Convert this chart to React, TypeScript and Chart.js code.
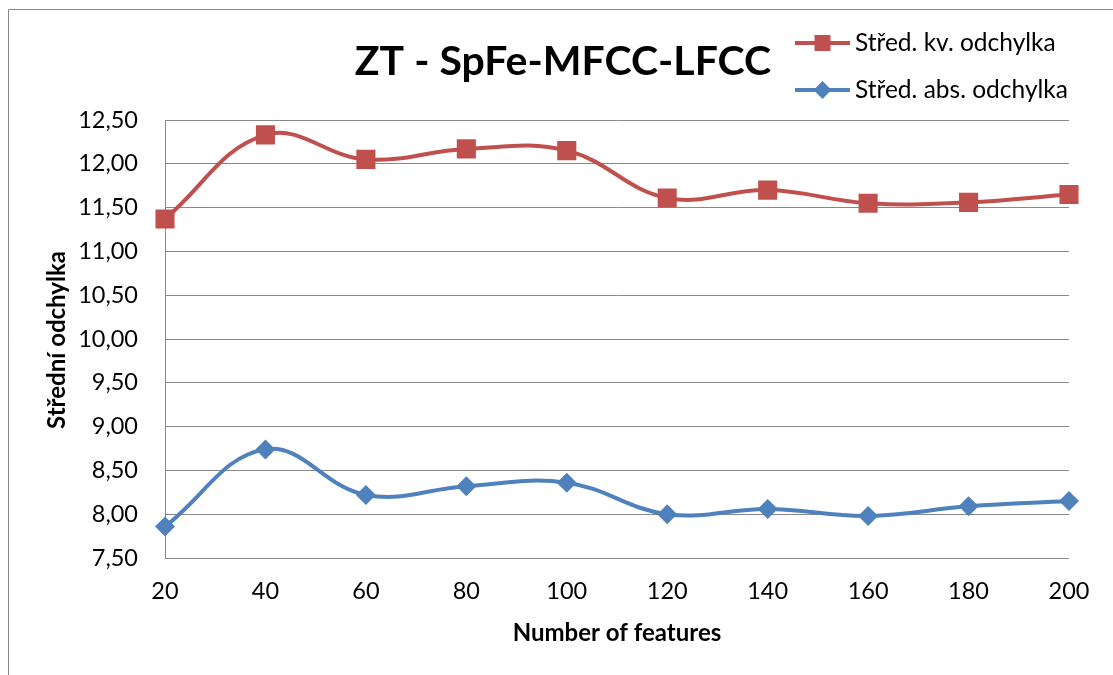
import React, { useEffect, useRef } from "react";
import { Chart, registerables } from "chart.js";

Chart.register(...registerables);

const categories = ["20", "40", "60", "80", "100", "120", "140", "160", "180", "200"];
const kvValues = [11.37, 12.33, 12.05, 12.17, 12.15, 11.61, 11.7, 11.55, 11.56, 11.65];
const absValues = [7.86, 8.74, 8.22, 8.32, 8.36, 8.0, 8.06, 7.98, 8.09, 8.15];
const seriesNames = ["Střed. kv. odchylka", "Střed. abs. odchylka"];
const titleText = "ZT - SpFe-MFCC-LFCC";
const xTitle = "Number of features";
const yTitle = "Střední odchylka";

const RED = "#C0504D";
const BLUE = "#4F81BD";
const FONT = "Lato, 'Open Sans', sans-serif";

const overlay = {
  id: "overlay",
  afterDraw(chart: any) {
    const ctx = chart.ctx;
    const area = chart.chartArea;
    ctx.save();
    // outer frame
    ctx.strokeStyle = "#888888";
    ctx.lineWidth = 1;
    ctx.beginPath();
    ctx.moveTo(8.5, 700);
    ctx.lineTo(8.5, 9.5);
    ctx.lineTo(1200, 9.5);
    ctx.stroke();

    // title
    ctx.fillStyle = "#000";
    ctx.textAlign = "center";
    ctx.textBaseline = "middle";
    ctx.font = `bold 41px ${FONT}`;
    ctx.fillText(titleText, 563, 62);

    // axis titles
    ctx.font = `bold 24px ${FONT}`;
    ctx.fillText(xTitle, 617, 633);

    ctx.save();
    ctx.translate(57, 340);
    ctx.rotate(-Math.PI / 2);
    ctx.fillText(yTitle, 0, 0);
    ctx.restore();

    // legend
    const items = [
      { y: 43, color: RED, shape: "rect" },
      { y: 90, color: BLUE, shape: "diamond" },
    ];
    items.forEach((it, i) => {
      ctx.strokeStyle = it.color;
      ctx.fillStyle = it.color;
      ctx.lineWidth = 4;
      ctx.beginPath();
      ctx.moveTo(795, it.y);
      ctx.lineTo(850, it.y);
      ctx.stroke();
      ctx.beginPath();
      if (it.shape === "rect") {
        ctx.rect(822.5 - 8, it.y - 8, 16, 16);
      } else {
        ctx.moveTo(822.5, it.y - 9);
        ctx.lineTo(831.5, it.y);
        ctx.lineTo(822.5, it.y + 9);
        ctx.lineTo(813.5, it.y);
        ctx.closePath();
      }
      ctx.fill();
      ctx.fillStyle = "#000";
      ctx.textAlign = "left";
      ctx.textBaseline = "middle";
      ctx.font = `24.5px ${FONT}`;
      ctx.fillText(seriesNames[i], 855, it.y);
    });
    ctx.restore();
  },
};

export default function App() {
  const ref = useRef<HTMLCanvasElement | null>(null);
  useEffect(() => {
    if (!ref.current) return;
    const chart = new Chart(ref.current, {
      type: "line",
      data: {
        labels: categories,
        datasets: [
          {
            label: seriesNames[0],
            data: kvValues,
            borderColor: RED,
            backgroundColor: RED,
            borderWidth: 4,
            pointStyle: "rect",
            pointRadius: 13.5,
            pointBorderWidth: 0,
            pointBackgroundColor: RED,
            tension: 0.4,
          },
          {
            label: seriesNames[1],
            data: absValues,
            borderColor: BLUE,
            backgroundColor: BLUE,
            borderWidth: 4,
            pointStyle: "rectRot",
            pointRadius: 10,
            pointBorderWidth: 0,
            pointBackgroundColor: BLUE,
            tension: 0.4,
          },
        ],
      },
      options: {
        animation: false,
        responsive: false,
        layout: { padding: { left: 0, top: 120, right: 44, bottom: 0 } },
        plugins: {
          legend: { display: false },
          title: { display: false },
          tooltip: { enabled: false },
        },
        scales: {
          x: {
            offset: false,
            grid: { display: false, drawTicks: false },
            border: { display: false },
            ticks: {
              color: "#000",
              font: { family: FONT, size: 23.5 },
              padding: 19,
              maxRotation: 0,
            },
            afterFit: (s: any) => {
              s.height = 675 - 558;
            },
          },
          y: {
            min: 7.5,
            max: 12.5,
            grid: { color: "#888888", lineWidth: 1, drawTicks: false },
            border: { display: true, color: "#888888", width: 1 },
            ticks: {
              stepSize: 0.5,
              color: "#000",
              font: { family: FONT, size: 23.5 },
              padding: 27,
              callback: (v: any) => Number(v).toFixed(2).replace(".", ","),
            },
            afterFit: (s: any) => {
              s.width = 165;
            },
          },
        },
      },
      plugins: [overlay],
    });
    return () => chart.destroy();
  }, []);
  return (
    <div style={{ position: "absolute", left: 0, top: 0, width: 1113, height: 675, background: "#fff" }}>
      <canvas ref={ref} width={1113} height={675} style={{ display: "block" }} />
    </div>
  );
}
